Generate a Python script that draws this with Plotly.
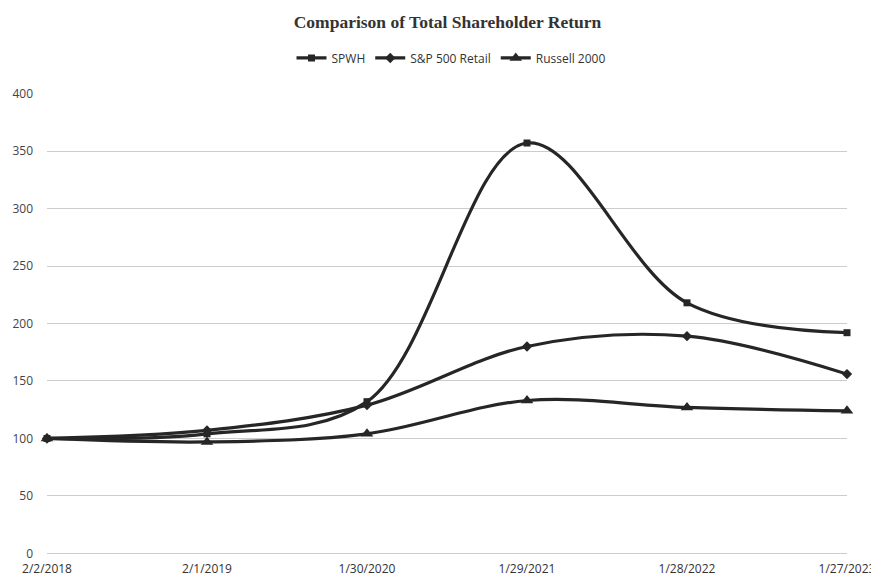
import plotly.graph_objects as go

dates = ["2/2/2018", "2/1/2019", "1/30/2020", "1/29/2021", "1/28/2022", "1/27/2023"]
spwh = [100, 104, 132, 357, 218, 192]
sp500_retail = [100, 107, 129, 180, 189, 156]
russell_2000 = [100, 97, 104, 133, 127, 124]

y_ticks = [0, 50, 100, 150, 200, 250, 300, 350, 400]

line_color = "#262626"
x_idx = list(range(len(dates)))

fig = go.Figure()
series = [
    ("SPWH", spwh, "square", 7),
    ("S&P 500 Retail", sp500_retail, "diamond", 8),
    ("Russell 2000", russell_2000, "triangle-up", 11),
]
for name, vals, sym, size in series:
    fig.add_trace(go.Scatter(
        x=x_idx, y=vals, name=name, mode="lines+markers",
        line=dict(color=line_color, width=3.2, shape="spline", smoothing=1),
        marker=dict(symbol=sym, size=size, color=line_color),
        cliponaxis=False,
    ))

# page body has an 8px default margin, so the figure is sized/placed to compensate
fig.update_layout(
    width=879, height=573,
    paper_bgcolor="white", plot_bgcolor="white",
    margin=dict(l=39, r=40, t=85, b=27, autoexpand=False),
    title=dict(text="<b>Comparison of Total Shareholder Return</b>",
               x=0.5, xanchor="center", y=0.975, yanchor="middle",
               font=dict(family="Liberation Serif", size=17.5, color="#333333")),
    legend=dict(orientation="h", x=0.505, xanchor="center", y=1.076, yanchor="middle",
                font=dict(family="Open Sans", size=12, color="#333333"),
                tracegroupgap=0),
    showlegend=True,
)
fig.update_xaxes(
    range=[0, len(dates) - 1], tickmode="array", tickvals=x_idx, ticktext=dates,
    showgrid=False, zeroline=False, showline=False, automargin=False,
    tickfont=dict(family="Open Sans", size=12, color="#333333"),
    ticklabelstandoff=6,
)
fig.update_yaxes(
    range=[-0.5, 400.5], tickmode="array", tickvals=y_ticks,
    showgrid=True, gridcolor="#cccccc", gridwidth=1,
    zeroline=True, zerolinecolor="#cccccc", zerolinewidth=1,
    showline=False, automargin=False,
    tickfont=dict(family="Open Sans", size=12, color="#444444"),
    ticklabelstandoff=13,
)

fig.write_html("out.html", post_script="document.body.style.overflow='hidden';")
